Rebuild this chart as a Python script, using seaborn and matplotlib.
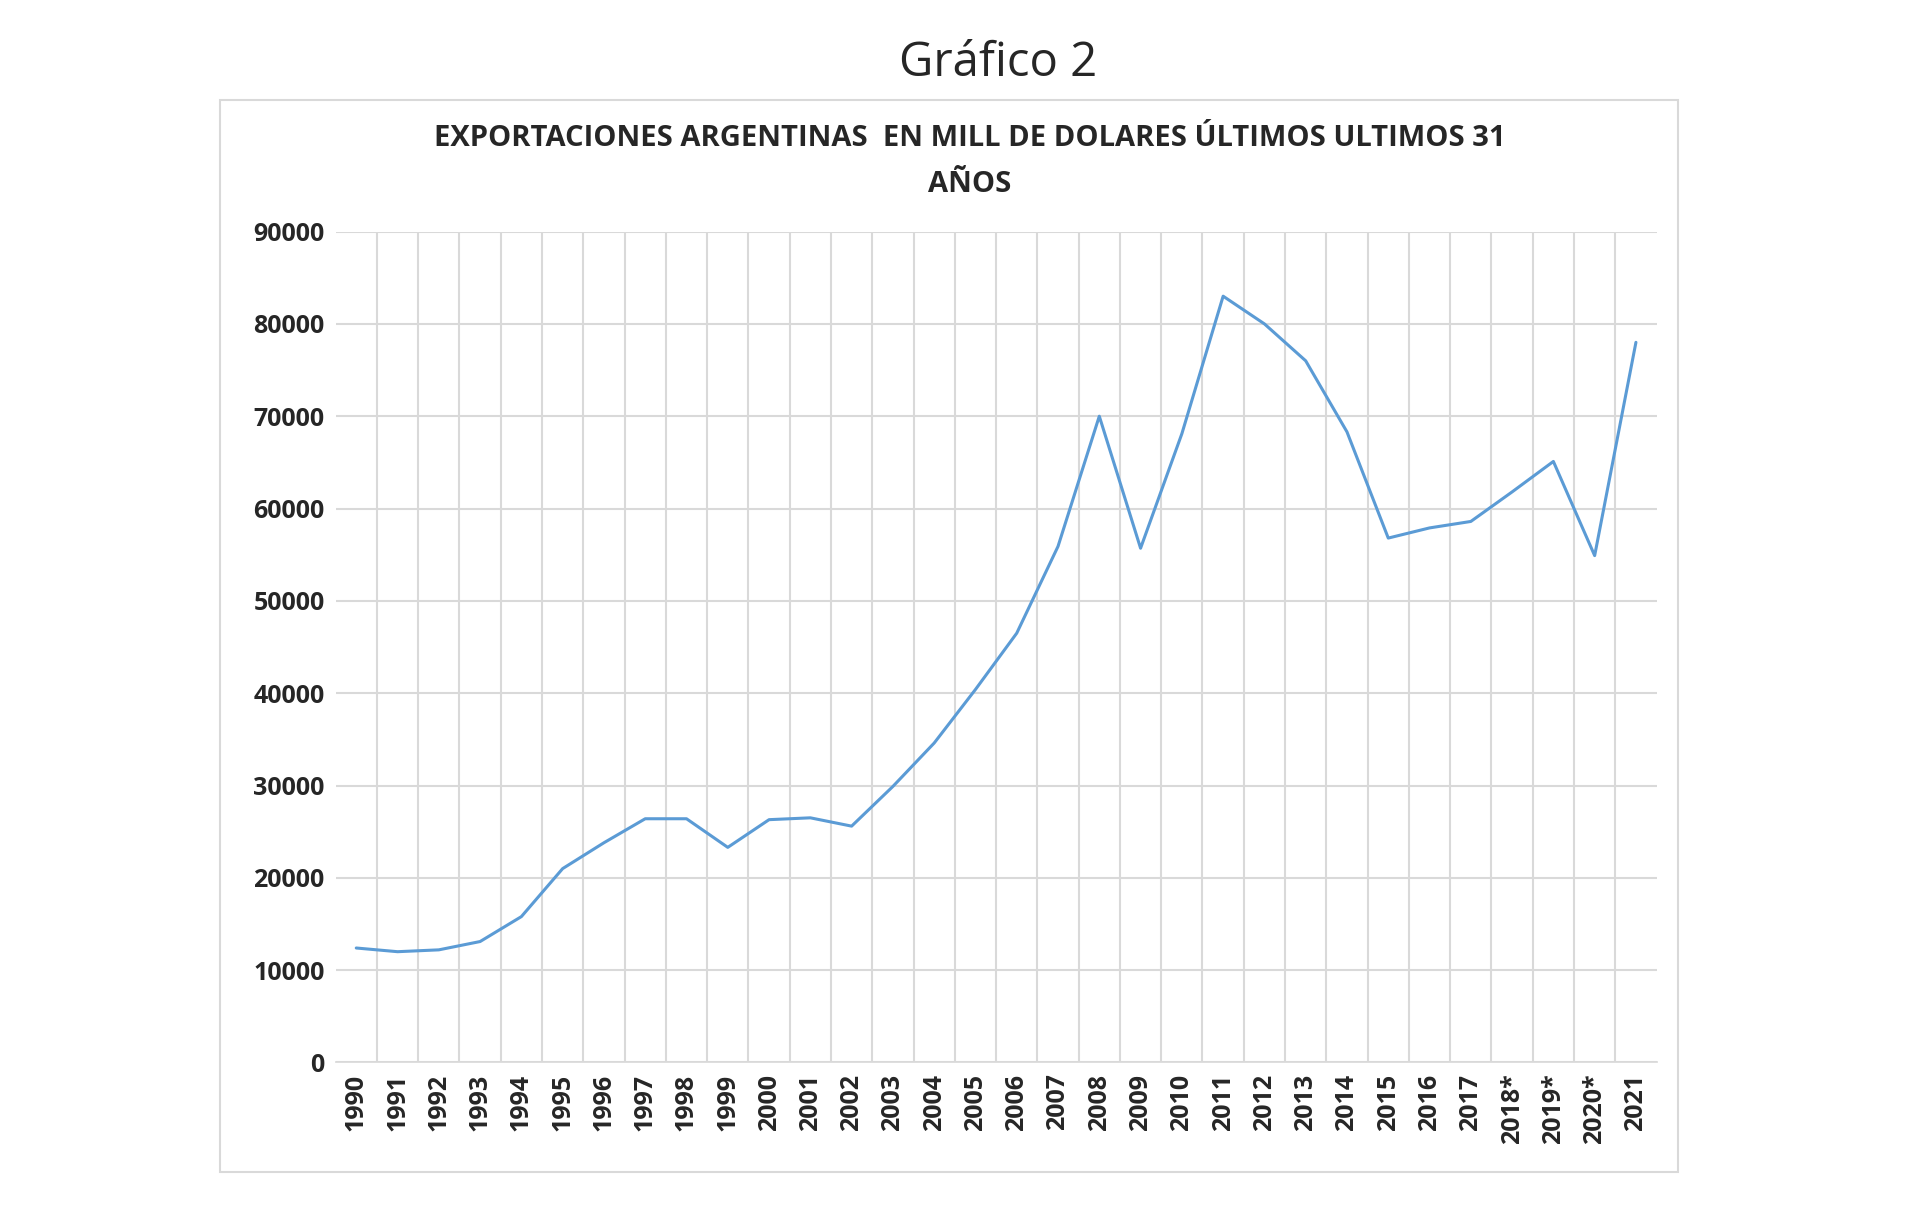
import matplotlib
matplotlib.use("Agg")
import matplotlib.pyplot as plt
import seaborn as sns
import pandas as pd
from matplotlib.patches import Rectangle

years = ["1990","1991","1992","1993","1994","1995","1996","1997","1998","1999","2000",
         "2001","2002","2003","2004","2005","2006","2007","2008","2009","2010","2011",
         "2012","2013","2014","2015","2016","2017","2018*","2019*","2020*","2021"]
exports = [12400,12000,12200,13100,15800,21000,23800,26400,26400,23300,26300,
           26500,25600,29900,34600,40400,46500,55900,70000,55700,68100,83000,
           80000,76000,68300,56800,57900,58600,61800,65100,54900,78000]

sns.set_theme(style="white")
plt.rcParams['font.family'] = ['Open Sans', 'DejaVu Sans']

df = pd.DataFrame({"pos": range(len(years)), "val": exports})
fig = plt.figure(figsize=(19.2, 12.06), dpi=100)
fig.patches.append(Rectangle((219.5/1920, 1-1172/1206), (1678-219.5)/1920, (1172-99.5)/1206,
                             transform=fig.transFigure, fill=False, edgecolor="#d9d9d9", lw=1.5))
ax = fig.add_axes([0.1748, 0.119, 0.688, 0.689])
sns.lineplot(data=df, x="pos", y="val", ax=ax, color="#5b9bd5", lw=2.2)
ax.set_xlim(-0.5, len(years)-0.5)
ax.set_ylim(0, 90000)
ax.set_yticks(range(0, 90001, 10000))
ax.set_yticklabels([str(v) for v in range(0, 90001, 10000)], fontsize=18, fontweight="bold")
ax.set_xticks(range(len(years)))
ax.set_xticklabels(years, rotation=90, fontsize=18, fontweight="bold")
ax.set_xticks([i+0.5 for i in range(len(years)-1)], minor=True)
ax.grid(axis="y", color="#d9d9d9", lw=1.5)
ax.grid(axis="x", which="minor", color="#d9d9d9", lw=1.5)
ax.tick_params(axis="both", which="both", length=0, pad=8)
ax.set_xlabel(""); ax.set_ylabel("")
for s in ["top", "right", "left"]:
    ax.spines[s].set_visible(False)
ax.spines["bottom"].set_color("#d9d9d9")
fig.text(0.52, 0.9476, "Gráfico 2", ha="center", va="center", fontsize=34)
fig.text(0.505, 0.866, "EXPORTACIONES ARGENTINAS  EN MILL DE DOLARES ÚLTIMOS ULTIMOS 31\nAÑOS",
         ha="center", va="center", fontsize=21, fontweight="bold", linespacing=1.8)
fig.savefig("out.png", dpi=100, facecolor="white")
